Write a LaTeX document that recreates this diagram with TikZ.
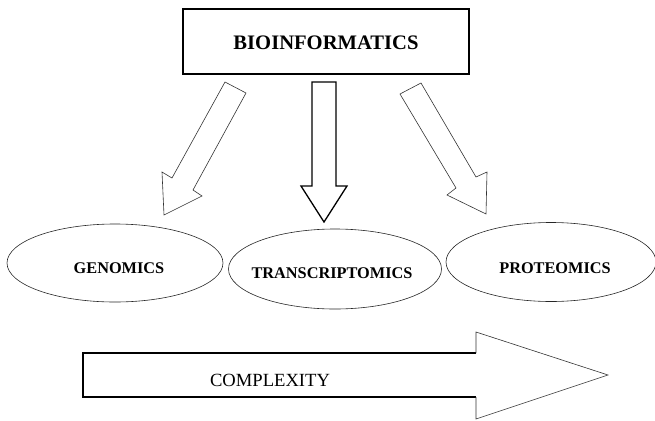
\documentclass[tikz,border=0pt]{standalone}
\usepackage{fontspec}
\setmainfont{Liberation Serif}
\usetikzlibrary{shapes.geometric}
\begin{document}
\begin{tikzpicture}[x=1pt,y=-1pt,
  thinline/.style={draw=black!80,line width=0.6pt,line join=miter},
  thickline/.style={draw=black,line width=1.3pt,line join=miter},
  oval/.style={ellipse,draw=black!85,line width=0.6pt,inner sep=0pt},
  lab/.style={font=\fontsize{16.3}{18}\selectfont\bfseries}]
\useasboundingbox (0,0) rectangle (655,420);
% top box
\draw[thickline] (183,9) rectangle (469,74);
\node[font=\fontsize{20.6}{24}\selectfont\bfseries] (bio) at (326,43) {BIOINFORMATICS};
% ellipses
\node[oval,minimum width=216pt,minimum height=78pt] (gen) at (115,263) {};
\node[lab] (gentxt) at (119,268) {GENOMICS};
\node[oval,minimum width=213pt,minimum height=80pt] (tra) at (335,269) {};
\node[lab] (tratxt) at (332,273) {TRANSCRIPTOMICS};
\node[oval,minimum width=210pt,minimum height=79pt] (pro) at (551,262) {};
\node[lab] (protxt) at (555,268) {PROTEOMICS};
% left diagonal arrow
\draw[thinline] (225,82) -- (246,93) -- (193,190) -- (202,196) -- (164,215) -- (162,172) -- (172,178) -- cycle;
% middle arrow
\draw[thickline] (312,82) -- (336,82) -- (336,186) -- (347,186) -- (324,222) -- (301,186) -- (312,186) -- cycle;
% right diagonal arrow
\draw[thinline] (400,94) -- (421,83) -- (476,177) -- (487,172) -- (486,214) -- (447,195) -- (456,188) -- cycle;
% bottom complexity arrow
\draw[thickline] (476,353) -- (83,353) -- (83,397) -- (476,397);
\draw[thinline] (476,397) -- (476,419) -- (608,375) -- (476,332) -- (476,353);
\node[font=\fontsize{18.6}{22}\selectfont] (cx) at (270,380) {COMPLEXITY};
\end{tikzpicture}
\end{document}
